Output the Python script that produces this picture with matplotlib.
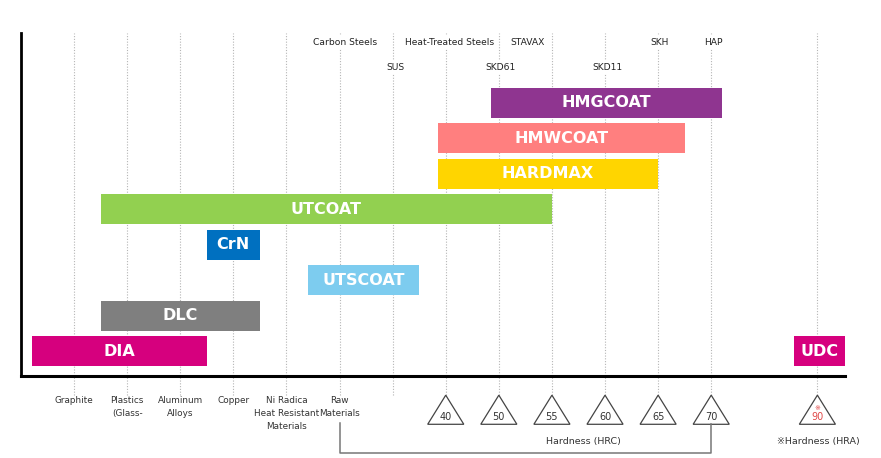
import numpy as np
import matplotlib.pyplot as plt
from matplotlib.patches import Polygon

# ---- datos ----
coatings = ["DIA", "DLC", "UTSCOAT", "CrN", "UTCOAT", "HARDMAX", "HMWCOAT", "HMGCOAT", "UDC"]
starts = [-0.8, 0.5, 4.4, 2.5, 0.5, 6.85, 6.85, 7.85, 13.55]
ends = [2.5, 3.5, 6.5, 3.5, 9.0, 11.0, 11.5, 12.2, 14.52]
levels = [0, 1, 2, 3, 4, 5, 6, 7, 0]
colors = ["#d6007e", "#7f7f7f", "#7dccef", "#0070c0", "#92d050",
          "#ffd500", "#ff7f7f", "#8f3590", "#d6007e"]

materials = ["Graphite", "Plastics\n(Glass-", "Aluminum\nAlloys", "Copper",
             "Ni Radica\nHeat Resistant\nMaterials", "Raw\nMaterials"]
hrc = [40, 50, 55, 60, 65, 70]
hra = [90]
grid_x = list(range(0, 13)) + [14]

steels_top = ["Carbon Steels", "Heat-Treated Steels", "STAVAX", "SKH", "HAP"]
steels_top_x = [5.1, 7.08, 8.55, 11.02, 12.05]
steels_low = ["SUS", "SKD61", "SKD11"]
steels_low_x = [6.05, 8.04, 10.04]

# ---- figura ----
fig = plt.figure(figsize=(8.81, 4.58), dpi=100)
ax = fig.add_axes([21/881, 82/458, 824/881, 343/458])
ax.set_xlim(-1, 14.52)
ax.set_ylim(-0.70, 8.96)
ax.set_xticks([])
ax.set_yticks([])
for s in ["top", "right"]:
    ax.spines[s].set_visible(False)
ax.spines["left"].set_linewidth(2)
ax.spines["bottom"].set_linewidth(2.2)

# lineas guia punteadas
for gx in grid_x:
    ax.plot([gx, gx], [-1.24, 8.96], ls=(0, (1, 1.5)), color="#b5b5b5",
            lw=0.8, zorder=0, clip_on=False)

# barras
ax.barh(levels, np.array(ends) - np.array(starts), left=starts, height=0.85,
        color=colors, zorder=2)
for name, a, b, lv in zip(coatings, starts, ends, levels):
    ax.text((a + b) / 2, lv, name, ha="center", va="center", color="white",
            fontsize=11.5, fontweight="bold", zorder=3)

# aceros arriba
for t, x in zip(steels_top, steels_top_x):
    ax.text(x, 8.70, t, ha="center", va="center", fontsize=6.6, color="#222222",
            bbox=dict(fc="white", ec="none", pad=1.5), zorder=1)
for t, x in zip(steels_low, steels_low_x):
    ax.text(x, 8.0, t, ha="center", va="center", fontsize=6.6, color="#222222",
            bbox=dict(fc="white", ec="none", pad=1.5), zorder=1)

# materiales abajo
for i, t in enumerate(materials):
    ax.text(i, -1.27, t, ha="center", va="top", fontsize=6.4, color="#333333",
            linespacing=1.55, clip_on=False)

# triangulos de dureza
def triangulo(x, txt, col="#333333"):
    tri = Polygon([[x - 0.34, -2.06], [x, -1.24], [x + 0.34, -2.06]], closed=True,
                  fill=False, ec="#444444", lw=0.9, clip_on=False)
    ax.add_patch(tri)
    ax.text(x, -1.85, txt, ha="center", va="center", fontsize=7, color=col,
            clip_on=False)

for i, h in enumerate(hrc):
    triangulo(7 + i, str(h))
triangulo(14, str(hra[0]), col="#e04848")
ax.text(14, -1.6, "※", ha="center", va="center", fontsize=5, color="#e04848",
        clip_on=False)

# corchete HRC
ax.plot([5, 5, 12, 12], [-2.03, -2.87, -2.87, -2.06], color="#777777", lw=1.1,
        clip_on=False)
ax.text(9.6, -2.54, "Hardness (HRC)", ha="center", va="center", fontsize=6.8,
        color="#333333", clip_on=False)
ax.text(14.02, -2.54, "※Hardness (HRA)", ha="center", va="center", fontsize=6.8,
        color="#333333", clip_on=False)

fig.savefig("out.png", dpi=100)
